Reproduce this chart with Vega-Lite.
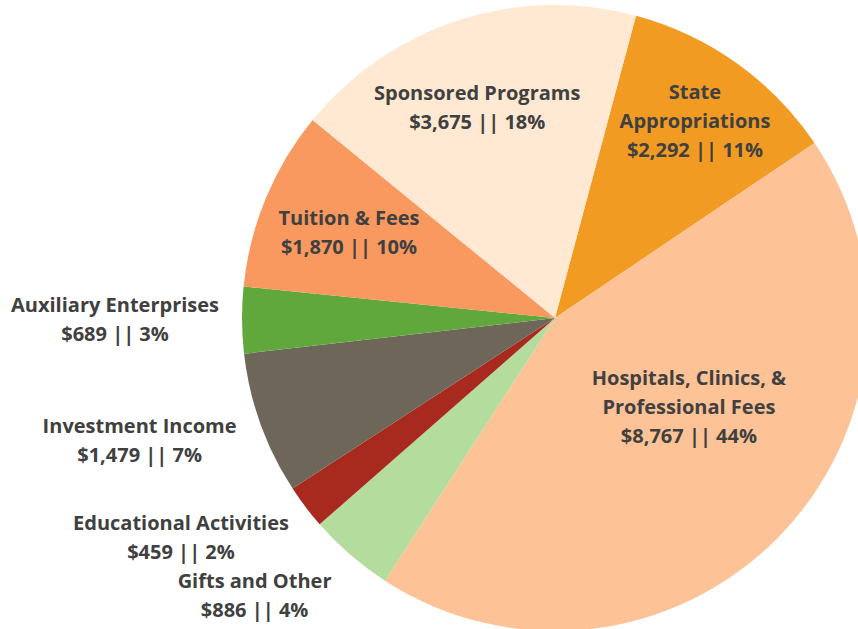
{
  "$schema": "https://vega.github.io/schema/vega-lite/v6.json",
  "width": 1110,
  "height": 636,
  "autosize": "none",
  "padding": {"left": 0, "top": 0, "right": -252, "bottom": -7},
  "background": "white",
  "config": {"view": {"stroke": null}, "text": {"font": "Open Sans", "fontWeight": "bold", "fontSize": 20, "lineBreak": "\n", "lineHeight": 29, "fill": "#404040", "align": "center", "baseline": "middle"}},
  "data": {
    "values": [
      {"idx": 1, "cat": "State Appropriations", "value": 2292, "label": "State\nAppropriations\n$2,292 || 11%"},
      {"idx": 2, "cat": "Hospitals, Clinics, & Professional Fees", "value": 8767, "label": "Hospitals, Clinics, &\nProfessional Fees\n$8,767 || 44%"},
      {"idx": 3, "cat": "Gifts and Other", "value": 886, "label": "Gifts and Other\n$886 || 4%"},
      {"idx": 4, "cat": "Educational Activities", "value": 459, "label": "Educational Activities\n$459 || 2%"},
      {"idx": 5, "cat": "Investment Income", "value": 1479, "label": "Investment Income\n$1,479 || 7%"},
      {"idx": 6, "cat": "Auxiliary Enterprises", "value": 689, "label": "Auxiliary Enterprises\n$689 || 3%"},
      {"idx": 7, "cat": "Tuition & Fees", "value": 1870, "label": "Tuition & Fees\n$1,870 || 10%"},
      {"idx": 8, "cat": "Sponsored Programs", "value": 3675, "label": "Sponsored Programs\n$3,675 || 18%"}
    ]
  },
  "encoding": {
    "theta": {"field": "value", "type": "quantitative", "stack": true, "scale": {"range": [0.2618, 6.545]}},
    "order": {"field": "idx", "type": "quantitative"}
  },
  "layer": [
    {
      "mark": {"type": "arc", "outerRadius": 313},
      "encoding": {
        "color": {
          "field": "cat", "type": "nominal", "legend": null,
          "scale": {
            "domain": ["State Appropriations", "Hospitals, Clinics, & Professional Fees", "Gifts and Other", "Educational Activities", "Investment Income", "Auxiliary Enterprises", "Tuition & Fees", "Sponsored Programs"],
            "range": ["#F29B23", "#FDC296", "#B4DC9C", "#A8291E", "#6E6659", "#61A83C", "#F9985F", "#FFE9D3"]
          }
        }
      }
    },
    {
      "mark": {"type": "text", "radius": 241, "dx": 0, "dy": -29},
      "encoding": {"text": {"condition": {"test": "datum.cat === 'State Appropriations'", "field": "label"}, "value": ""}}
    },
    {
      "mark": {"type": "text", "radius": 161, "dx": 19, "dy": -52},
      "encoding": {"text": {"condition": {"test": "datum.cat === 'Hospitals, Clinics, & Professional Fees'", "field": "label"}, "value": ""}}
    },
    {
      "mark": {"type": "text", "radius": 409, "dx": -33, "dy": -45},
      "encoding": {"text": {"condition": {"test": "datum.cat === 'Gifts and Other'", "field": "label"}, "value": ""}}
    },
    {
      "mark": {"type": "text", "radius": 434, "dx": -28, "dy": -56},
      "encoding": {"text": {"condition": {"test": "datum.cat === 'Educational Activities'", "field": "label"}, "value": ""}}
    },
    {
      "mark": {"type": "text", "radius": 433, "dx": -8, "dy": -38},
      "encoding": {"text": {"condition": {"test": "datum.cat === 'Investment Income'", "field": "label"}, "value": ""}}
    },
    {
      "mark": {"type": "text", "radius": 440, "dx": 0, "dy": -15},
      "encoding": {"text": {"condition": {"test": "datum.cat === 'Auxiliary Enterprises'", "field": "label"}, "value": ""}}
    },
    {
      "mark": {"type": "text", "radius": 223, "dx": 0, "dy": -14},
      "encoding": {"text": {"condition": {"test": "datum.cat === 'Tuition & Fees'", "field": "label"}, "value": ""}}
    },
    {
      "mark": {"type": "text", "radius": 224, "dx": -9, "dy": -11},
      "encoding": {"text": {"condition": {"test": "datum.cat === 'Sponsored Programs'", "field": "label"}, "value": ""}}
    }
  ]
}
